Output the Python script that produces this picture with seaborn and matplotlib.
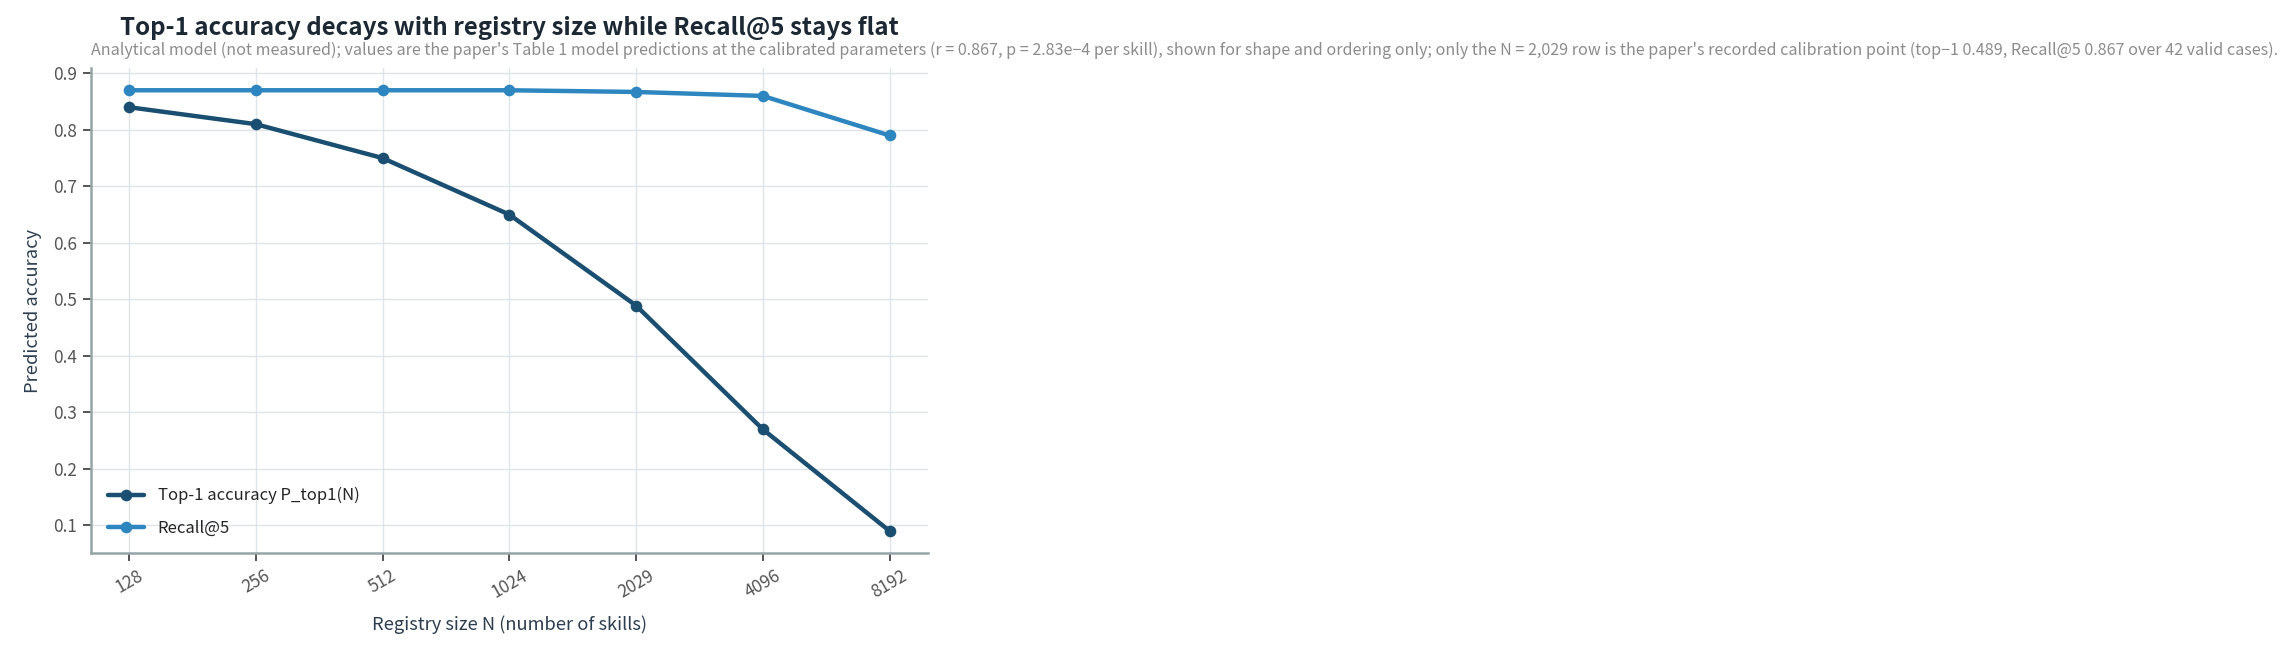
import pandas as pd
import matplotlib
matplotlib.use("Agg")
import matplotlib.pyplot as plt
import seaborn as sns

registry_sizes = ["128", "256", "512", "1024", "2029", "4096", "8192"]
top1_acc = [0.84, 0.81, 0.75, 0.65, 0.489, 0.27, 0.09]
recall_at5 = [0.87, 0.87, 0.87, 0.87, 0.867, 0.86, 0.79]
series_names = ["Top-1 accuracy P_top1(N)", "Recall@5"]

sns.set_theme(style="whitegrid")
plt.rcParams['font.family'] = ['Noto Sans CJK KR', 'DejaVu Sans']

df = pd.DataFrame({
    'pos': list(range(len(registry_sizes))) * 2,
    'value': top1_acc + recall_at5,
    'series': [series_names[0]] * len(top1_acc) + [series_names[1]] * len(recall_at5),
})

fig = plt.figure(figsize=(11.46, 3.28), dpi=200)
ax = fig.add_axes([0.0397, 0.157, 0.365, 0.739])

sns.lineplot(data=df, x='pos', y='value', hue='series', hue_order=series_names,
             palette=['#1b4f72', '#2e86c1'], marker='o', markersize=4.2,
             markeredgewidth=0, linewidth=1.6, ax=ax)

ax.set_xticks(range(len(registry_sizes)))
ax.set_xticklabels(registry_sizes, rotation=30)
ax.set_yticks([0.1, 0.2, 0.3, 0.4, 0.5, 0.6, 0.7, 0.8, 0.9])
ax.margins(x=0.05, y=0.05)

ax.grid(True, color='#dfe4e8', linewidth=0.5)
for side in ['top', 'right']:
    ax.spines[side].set_visible(False)
for side in ['left', 'bottom']:
    ax.spines[side].set_color('#95a5a6')
    ax.spines[side].set_linewidth(0.9)
ax.tick_params(axis='both', which='both', length=3, width=0.7, color='#555555',
               labelsize=6.2, labelcolor='#555555', pad=2)
ax.tick_params(axis='both', bottom=True, left=True)

ax.set_xlabel('Registry size N (number of skills)', fontsize=6.6, color='#2c3e50', labelpad=5)
ax.set_ylabel('Predicted accuracy', fontsize=6.6, color='#2c3e50', labelpad=4)

ax.set_title('Top-1 accuracy decays with registry size while Recall@5 stays flat',
             fontsize=8.7, fontweight='bold', color='#1c2833', pad=12)
ax.text(0.0, 1.02,
        "Analytical model (not measured); values are the paper's Table 1 model predictions at the "
        "calibrated parameters (r = 0.867, p = 2.83e\u22124 per skill), shown for shape and ordering only; "
        "only the N = 2,029 row is the paper's recorded calibration point (top\u22121 0.489, Recall@5 0.867 "
        "over 42 valid cases).",
        transform=ax.transAxes, ha='left', va='bottom', fontsize=5.8, color='#8c8c8c')

ax.legend(loc='lower left', frameon=False, fontsize=6, handlelength=2.2,
          borderaxespad=0.6, labelspacing=0.9)

fig.savefig('out.png', dpi=200)
